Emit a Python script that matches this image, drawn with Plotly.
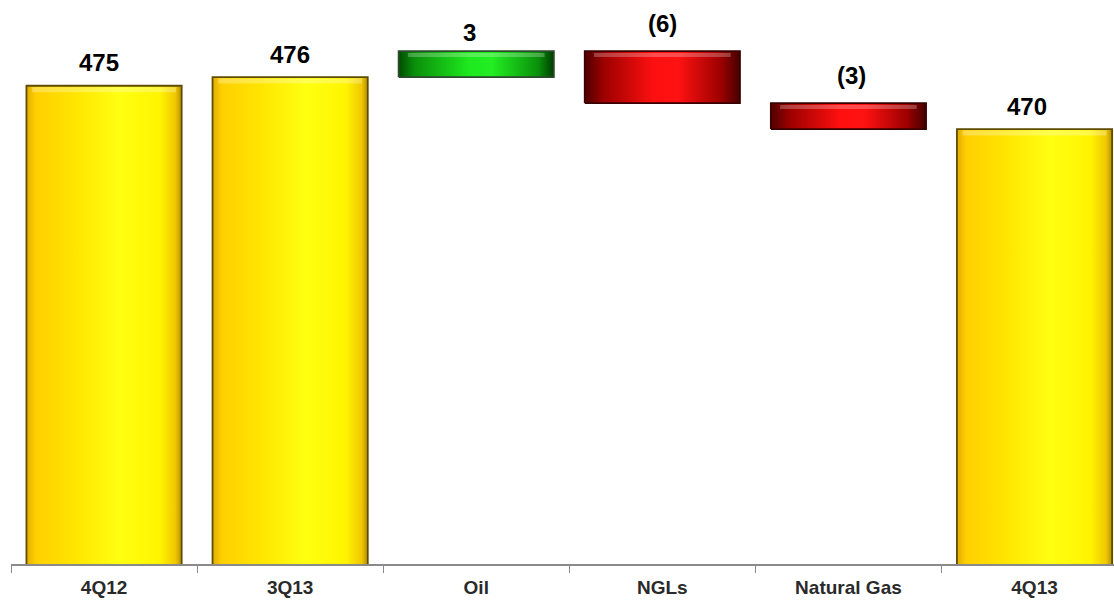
import plotly.graph_objects as go

# Production bridge, 4Q12 -> 4Q13
categories = ["4Q12", "3Q13", "Oil", "NGLs", "Natural Gas", "4Q13"]
values = [475, 476, 3, -6, -3, 470]
kinds = ["total", "total", "delta", "delta", "delta", "total"]

BAR_HALF = 0.417
FONT = "Liberation Sans, Arial, sans-serif"

YELLOW = dict(scale=[[0, "#e0ae00"], [0.06, "#ffcf00"], [0.3, "#ffe400"],
                     [0.6, "#ffff10"], [0.86, "#fff400"], [0.96, "#f0c800"],
                     [1, "#b89000"]], edge="#5e4c00")
GREEN = dict(scale=[[0, "#004c00"], [0.1, "#0a8e0a"], [0.45, "#1ee81e"],
                    [0.6, "#22ee22"], [0.9, "#0a900a"], [1, "#003c00"]], edge="#2e4a2e")
RED = dict(scale=[[0, "#4e0000"], [0.12, "#9c0000"], [0.45, "#ff1010"],
                  [0.6, "#ff1212"], [0.88, "#9c0000"], [1, "#440000"]], edge="#3a0000")

fig = go.Figure()

level = 0
tops = []
for i, (cat, v, kind) in enumerate(zip(categories, values, kinds)):
    if kind == "total":
        lo, hi = 0, v
        level = v
        style = YELLOW
    else:
        lo, hi = sorted((level, level + v))
        level += v
        style = GREEN if v > 0 else RED
    tops.append(hi)
    x0, x1 = i - BAR_HALF, i + BAR_HALF
    fig.add_trace(go.Scatter(
        x=[x0, x1, x1, x0, x0], y=[lo, lo, hi, hi, lo],
        mode="lines", fill="toself",
        fillgradient=dict(type="horizontal", colorscale=style["scale"]),
        line=dict(color=style["edge"], width=1.8),
        hoverinfo="skip", showlegend=False,
    ))
    # soft bevel highlight along the top edge
    if kind == "delta":
        fig.add_trace(go.Scatter(
            x=[x0 + 0.05, x1 - 0.05], y=[hi - 0.45, hi - 0.45], mode="lines",
            line=dict(color="rgba(255,255,255,0.25)", width=4),
            hoverinfo="skip", showlegend=False,
        ))
    else:
        fig.add_trace(go.Scatter(
            x=[x0 + 0.03, x1 - 0.03], y=[hi - 0.45, hi - 0.45], mode="lines",
            line=dict(color="rgba(255,255,230,0.3)", width=5),
            hoverinfo="skip", showlegend=False,
        ))

# value labels above each bar
label_dy = {"total": 23, "up": 19, "down": 28}
label_dx = [-5, 0, -7, 0, 3, -8]
for i, (v, kind, top) in enumerate(zip(values, kinds, tops)):
    if kind == "total":
        text, dy = f"{v}", label_dy["total"]
    elif v > 0:
        text, dy = f"{v}", label_dy["up"]
    else:
        text, dy = f"({abs(v)})", label_dy["down"]
    fig.add_annotation(
        x=i, y=top, text=text, showarrow=False,
        yanchor="middle", yshift=dy, xshift=label_dx[i],
        font=dict(family=FONT, size=24, color="#000000", weight="bold"),
    )

fig.update_layout(
    width=1114, height=603,
    margin=dict(l=11, r=0, t=0, b=39),
    paper_bgcolor="white", plot_bgcolor="white",
    xaxis=dict(
        range=[-0.5, 5.427], tickvals=list(range(len(categories))),
        ticktext=categories, ticks="", showgrid=False, zeroline=False,
        showline=True, linecolor="#8a8a8a", linewidth=2,
        tickfont=dict(family=FONT, size=19, color="#2a2a2a", weight="bold"),
        ticklabelstandoff=5,
        minor=dict(tickvals=[i - 0.5 for i in range(len(categories))],
                   ticks="outside", ticklen=7, tickcolor="#8a8a8a", tickwidth=1),
    ),
    yaxis=dict(range=[419.8, 484.9], visible=False, showgrid=False, zeroline=False),
)

fig.write_html("out.html")
